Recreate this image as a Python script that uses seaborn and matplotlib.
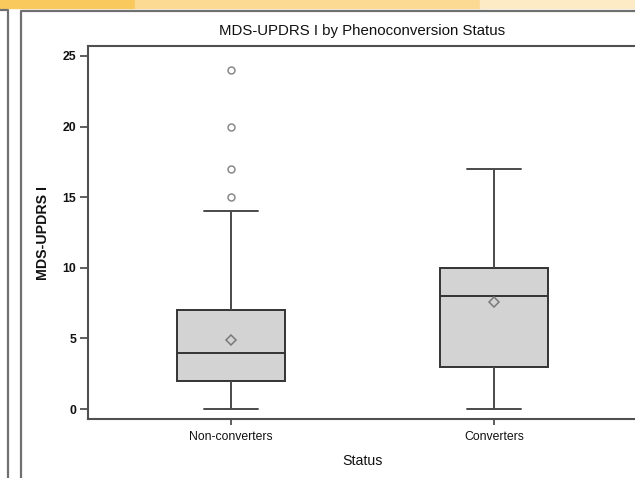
import numpy as np
import pandas as pd
import matplotlib
matplotlib.use("Agg")
import matplotlib.pyplot as plt
from matplotlib.patches import Rectangle
from matplotlib.lines import Line2D
import seaborn as sns

# ---- data (individual scores read so the box summaries match the picture) ----
categories = ["Non-converters", "Converters"]
non_converters = [0, 0, 0, 0, 0, 0, 0, 0, 0, 0, 1, 1, 1, 1, 1,
                  2,
                  2, 2, 2, 2, 2, 2, 2, 3, 3, 3, 3, 3, 4, 4,
                  4,
                  4, 4, 4, 4, 4, 5, 5, 5, 5, 5, 6, 6, 7, 7,
                  7,
                  7, 7, 7, 7, 8, 8, 8, 9, 10, 11, 14,
                  15, 17, 20, 24]
converters = [0, 1, 2, 2, 3, 3, 4, 5, 6, 7, 8, 8, 9, 9, 10, 10,
              12, 13, 14, 16, 17]
title = "MDS-UPDRS I by Phenoconversion Status"
x_label = "Status"
y_label = "MDS-UPDRS I"
y_ticks = [0, 5, 10, 15, 20, 25]

df = pd.DataFrame({
    "Status": [categories[0]] * len(non_converters) + [categories[1]] * len(converters),
    "Score": non_converters + converters,
})

sns.set_theme(style="white")
plt.rcParams["font.family"] = ["Liberation Sans", "DejaVu Sans"]

W, H = 635, 478
fig = plt.figure(figsize=(W / 100, H / 100), dpi=100)

def fx(px):
    return px / W

def fy(py):
    return 1 - py / H

# screenshot decorations (top ribbon + window frames)
for x0, x1, c in [(0, 135, "#F9C95E"), (135, 480, "#FCDA94"), (480, 635, "#FDEBC6")]:
    fig.patches.append(Rectangle((fx(x0), fy(8)), fx(x1 - x0), 8 / H,
                                 transform=fig.transFigure, color=c, zorder=0))
gray = "#707070"
fig.lines.append(Line2D([fx(0), fx(8), fx(8)], [fy(10), fy(10), fy(480)],
                        transform=fig.transFigure, color=gray, lw=1.6))
fig.lines.append(Line2D([fx(21), fx(21), fx(640)], [fy(480), fy(11), fy(11)],
                        transform=fig.transFigure, color=gray, lw=1.6))

ax_left, ax_right, ax_top, ax_bot = 88, 637, 46, 419
ax = fig.add_axes([fx(ax_left), fy(ax_bot), (ax_right - ax_left) / W, (ax_bot - ax_top) / H])

line_c = "#333333"
sns.boxplot(
    data=df, x="Status", y="Score", order=categories, ax=ax,
    width=0.407, color="#D3D3D3", saturation=1, linecolor=line_c, linewidth=1.4,
    showmeans=True,
    meanprops=dict(marker="D", markerfacecolor="none", markeredgecolor="#7a7a7a",
                   markersize=5.5, markeredgewidth=1.1),
    flierprops=dict(marker="o", markerfacecolor="none", markeredgecolor="#8a8a8a",
                    markersize=5, markeredgewidth=1.1),
    medianprops=dict(color=line_c, linewidth=1.4),
    whiskerprops=dict(color="#4a4a4a", linewidth=1.4),
    capprops=dict(color="#4a4a4a", linewidth=1.4),
)

# axis ranges from pixel positions of ticks (0 at y=409, 25 at y=56)
unit = (409 - 56) / 25
ax.set_ylim((409 - ax_bot) / unit, (409 - ax_top) / unit)
sp = 494 - 231
ax.set_xlim((ax_left - 231) / sp, (ax_right - 231) / sp)
ax.set_yticks(y_ticks)

for s in ax.spines.values():
    s.set_visible(True)
    s.set_color("#505050")
    s.set_linewidth(1.5)

ax.tick_params(axis="y", direction="out", length=5.8, width=1.1, color="#333333",
               pad=2.8, labelsize=8.8, labelcolor="#111111", left=True)
ax.tick_params(axis="x", direction="out", length=4.3, width=1.1, color="#333333",
               pad=4.5, labelsize=8.8, labelcolor="#111111", bottom=True)
for t in ax.get_yticklabels():
    t.set_fontweight("bold")

ax.set_title(title, fontsize=10.8, color="#111111", pad=8)
ax.set_xlabel(x_label, fontsize=10.2, color="#111111")
ax.set_ylabel(y_label, fontsize=10.2, color="#111111", fontweight="bold")
ax.xaxis.label.set_va("center")
ax.yaxis.label.set_va("center")
ax.xaxis.set_label_coords((363 - ax_left) / (ax_right - ax_left), -(461 - ax_bot) / (ax_bot - ax_top))
ax.yaxis.set_label_coords(-(ax_left - 43) / (ax_right - ax_left), 0.5)

fig.savefig("out.png", dpi=100)
